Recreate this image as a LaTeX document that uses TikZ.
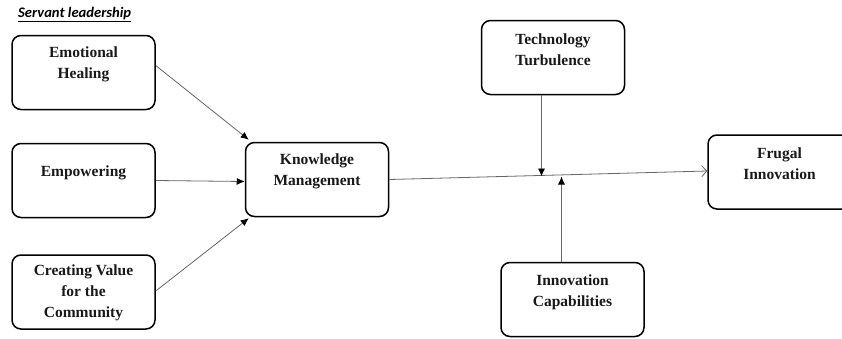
\documentclass[tikz,border=0pt]{standalone}
\usepackage{fontspec}
\setmainfont{Liberation Serif}
\newfontfamily\calib{Carlito}
\usetikzlibrary{arrows.meta}
\tikzset{
  box/.style={draw=black, line width=1.5pt, rounded corners=9pt, minimum width=143pt, minimum height=74pt, inner sep=0pt},
  txt/.style={font=\fontsize{15.5}{21}\selectfont\bfseries, align=center, inner sep=0pt, text=black!90},
  conn/.style={draw=black!60, line width=0.8pt, -{Latex[length=8pt,width=7pt,color=black]}},
  openconn/.style={draw=black!60, line width=0.8pt, -{Straight Barb[length=5pt,width=11pt]}},
}
\begin{document}
\begin{tikzpicture}[x=1pt,y=-1pt]
\path[use as bounding box, fill=white] (0,0) rectangle (842,338);
\clip (0,0) rectangle (842,338);
\node[font=\calib\fontsize{14.6}{16}\selectfont\bfseries\itshape, anchor=west, inner sep=0pt] (sl) at (18,15) {\underline{Servant leadership}};
% boxes
\node[box] (eh) at (83.5,72.5) {};
\node[txt] (eht) at ([yshift=8]eh.center) {Emotional\\Healing};
\node[box] (em) at (83.5,180.5) {};
\node[txt] (emt) at ([yshift=8]em.center) {Empowering};
\node[box] (cv) at (83.5,292) {};
\node[txt] (cvt) at ([yshift=-1]cv.center) {Creating Value\\for the\\Community};
\node[box] (km) at (317,179.5) {};
\node[txt] (kmt) at ([yshift=8]km.center) {Knowledge\\Management};
\node[box] (tt) at (553,57.5) {};
\node[txt] (ttt) at ([yshift=7.5]tt.center) {Technology\\Turbulence};
\node[box] (fi) at (779.5,172) {};
\node[txt] (fit) at ([yshift=8]fi.center) {Frugal\\Innovation};
\node[box] (ic) at (572.5,299.5) {};
\node[txt] (ict) at ([yshift=7]ic.center) {Innovation\\Capabilities};
% connectors
\draw[conn] ([yshift=7]eh.east) -- ([shift={(4,-2)}]km.north west);
\draw[conn] (em.east) -- ([yshift=-2]km.west);
\draw[conn] ([yshift=1]cv.east) -- ([shift={(4,1)}]km.south west);
\draw[openconn] (km.east) -- ([yshift=1]fi.west);
\coordinate (ttend) at (541.5,176.5);
\coordinate (icend) at (561.5,176.5);
\draw[conn] (tt.south -| ttend) -- (ttend);
\draw[conn] (ic.north -| icend) -- (icend);
\end{tikzpicture}
\end{document}
